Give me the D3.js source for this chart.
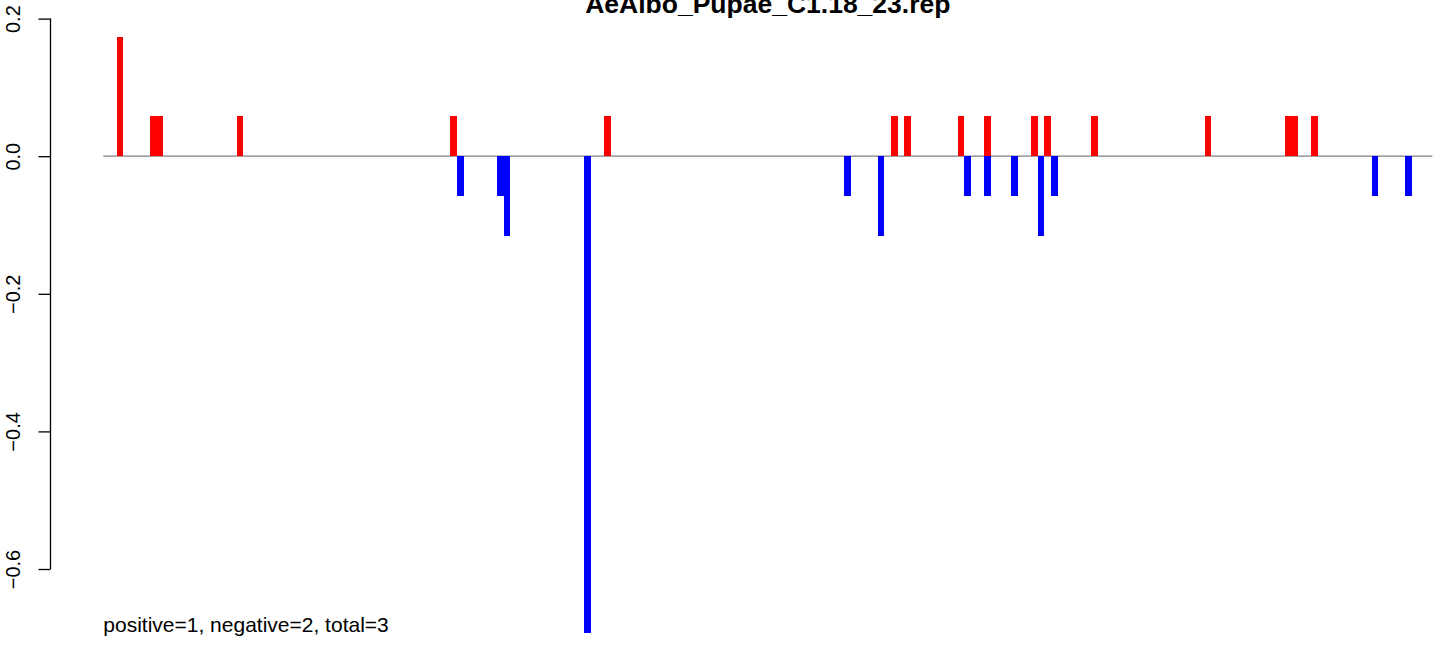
<!DOCTYPE html>
<html>
<head>
<meta charset="utf-8">
<script src="https://cdn.jsdelivr.net/npm/d3@7"></script>
<style>
  html, body { margin: 0; padding: 0; background: #fff; }
  svg { display: block; font-family: "Liberation Sans", Arial, sans-serif; }
</style>
</head>
<body>
<svg id="chart" width="1444" height="645"></svg>
<script>
// ---- data ----
const titleText = "AeAlbo_Pupae_C1.18_23.rep";
const footerText = "positive=1, negative=2, total=3";
const yTicks = [0.2, 0.0, -0.2, -0.4, -0.6];

const posIndex = [0, 5, 6, 18, 50, 73, 116, 118, 126, 130, 137, 139, 146, 163, 175, 176, 179];
const posValue = [0.1734, 0.0578, 0.0578, 0.0578, 0.0578, 0.0578, 0.0578, 0.0578, 0.0578, 0.0578, 0.0578, 0.0578, 0.0578, 0.0578, 0.0578, 0.0578, 0.0578];

const negIndex = [51, 57, 58, 70, 109, 114, 127, 130, 134, 138, 140, 188, 193];
const negValue = [-0.0578, -0.0578, -0.1156, -0.6936, -0.0578, -0.1156, -0.0578, -0.0578, -0.0578, -0.1156, -0.0578, -0.0578, -0.0578];

// ---- layout ----
const svg = d3.select("#chart");
const x = d3.scaleLinear().domain([-2, 197.1]).range([103.3, 1432.3]);
const y = d3.scaleLinear().domain([0.2, -0.6]).range([18.6, 569]);

const posData = posIndex.map((d, i) => ({ i: d, v: posValue[i] }));
const negData = negIndex.map((d, i) => ({ i: d, v: negValue[i] }));

// baseline
svg.append("line")
  .attr("x1", x(-2)).attr("x2", x(197.1))
  .attr("y1", y(0)).attr("y2", y(0))
  .attr("stroke", "#7f7f7f").attr("stroke-width", 1.3);

// bars
svg.append("g").attr("shape-rendering", "crispEdges")
  .selectAll("rect").data(posData).join("rect")
  .attr("x", d => x(d.i)).attr("width", d => x(d.i + 1) - x(d.i))
  .attr("y", d => y(d.v)).attr("height", d => y(0) - y(d.v))
  .attr("fill", "#ff0000");

svg.append("g").attr("shape-rendering", "crispEdges")
  .selectAll("rect").data(negData).join("rect")
  .attr("x", d => x(d.i)).attr("width", d => x(d.i + 1) - x(d.i))
  .attr("y", y(0)).attr("height", d => y(d.v) - y(0))
  .attr("fill", "#0000ff");

// y axis
const axis = svg.append("g")
  .attr("transform", "translate(50.5,0)")
  .call(d3.axisLeft(y).tickValues(yTicks).tickSize(12).tickFormat(d3.format(".1f")).tickSizeOuter(0));
axis.select(".domain").attr("stroke", "#000").attr("stroke-width", 1.3)
  .attr("d", `M0,${y(0.2)}V${y(-0.6)}`);
axis.selectAll(".tick line").attr("stroke", "#000").attr("stroke-width", 1.3);
axis.selectAll(".tick text")
  .attr("x", null).attr("dy", null).attr("y", null)
  .attr("text-anchor", "middle")
  .attr("transform", "translate(-30.5,0) rotate(-90)")
  .attr("fill", "#000")
  .style("font-size", "20px")
  .style("font-family", "'Liberation Sans', Arial, sans-serif");

// title
svg.append("text")
  .attr("x", (x(-2) + x(197.1)) / 2).attr("y", 12.5)
  .attr("text-anchor", "middle")
  .style("font-weight", "bold").style("font-size", "26.5px")
  .text(titleText);

// footer
svg.append("text")
  .attr("x", x(-2)).attr("y", 632)
  .style("font-size", "21px")
  .text(footerText);
</script>
</body>
</html>
